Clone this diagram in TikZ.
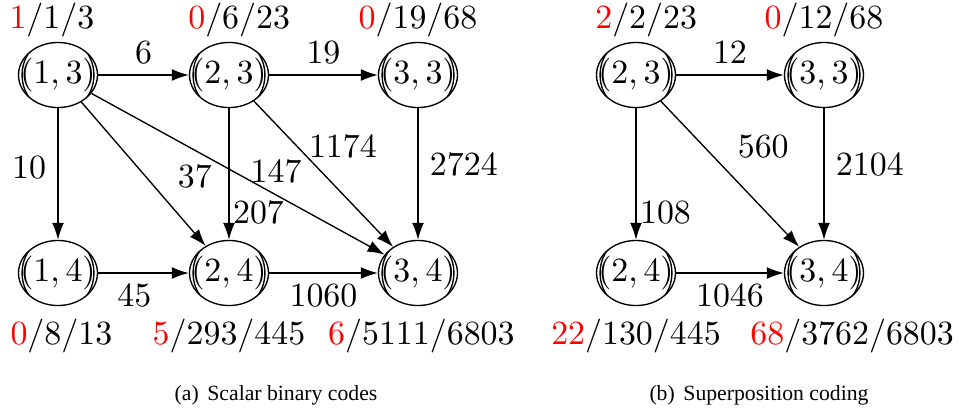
\documentclass[tikz,border=0pt]{standalone}
\usepackage[no-math]{fontspec}
\newfontfamily\capfont{Liberation Serif}
\usepackage{xcolor}
\usetikzlibrary{positioning, calc, shapes.geometric, arrows.meta}
\tikzstyle{Arrow} = [
thin,
-{Latex[length=5pt, width=3.5pt]}]
\tikzstyle{Cell} = [
ellipse, draw, thin, inner sep=0pt,
minimum width=23.3pt, minimum height=19.2pt,
path picture={\draw[thin] (path picture bounding box.center)
  ellipse [x radius=10.6pt, y radius=11.2pt];}]
\tikzstyle{Count} = [inner sep=0pt]
\tikzstyle{Caption} = [anchor=base, inner sep=0pt,
font=\capfont\fontsize{6.4}{8}\selectfont]
\newcommand{\cell}[2]{\makebox[0pt]{$(#1,#2)$}}
\newcommand{\hits}[2]{$\textcolor{red}{#1}/#2$}

\begin{document}
\begin{tikzpicture}[x=0.295pt, y=-0.295pt]
    \useasboundingbox (0,0) rectangle (959,415);

    % (a) scalar binary codes
    \node[Cell] (a13) at (58,75) {\cell{1}{3}};
    \node[Cell] (a23) at (229,75) {\cell{2}{3}};
    \node[Cell] (a33) at (418,75) {\cell{3}{3}};
    \node[Cell] (a14) at (58,273) {\cell{1}{4}};
    \node[Cell] (a24) at (229,273) {\cell{2}{4}};
    \node[Cell] (a34) at (418,273) {\cell{3}{4}};

    \node[Count, above=1.2pt of a13, xshift=-1.8pt] (ta13) {\hits{1}{1/3}};
    \node[Count, above=1.2pt of a23, xshift=3pt] (ta23) {\hits{0}{6/23}};
    \node[Count, above=1.2pt of a33] (ta33) {\hits{0}{19/68}};
    \node[Count, below=3.5pt of a14, xshift=1pt] (ba14) {\hits{0}{8/13}};
    \node[Count, below=3.5pt of a24] (ba24) {\hits{5}{293/445}};
    \node[Count, below=3.5pt of a34, xshift=1pt] (ba34) {\hits{6}{5111/6803}};

    \draw[Arrow] (a13) -- node[above] {$6$} (a23);
    \draw[Arrow] (a23) -- node[above] {$19$} (a33);
    \draw[Arrow] (a13) -- node[left, pos=0.45] {$10$} (a14);
    \draw[Arrow] (a13) -- node[above right, pos=0.68] {$37$} (a24);
    \draw[Arrow] (a13) -- node[above, pos=0.63] {$147$} (a34);
    \draw[Arrow] (a23) -- node[right, pos=0.79, inner sep=1pt] {$207$} (a24);
    \draw[Arrow] (a23) -- node[right, pos=0.31] {$1174$} (a34);
    \draw[Arrow] (a33) -- node[right, pos=0.43] {$2724$} (a34);
    \draw[Arrow] (a14) -- node[below, pos=0.4] {$45$} (a24);
    \draw[Arrow] (a24) -- node[below] {$1060$} (a34);

    % (b) superposition coding
    \node[Cell] (b23) at (636,75) {\cell{2}{3}};
    \node[Cell] (b33) at (824,75) {\cell{3}{3}};
    \node[Cell] (b24) at (636,273) {\cell{2}{4}};
    \node[Cell] (b34) at (824,273) {\cell{3}{4}};

    \node[Count, above=1.2pt of b23, xshift=3pt] (tb23) {\hits{2}{2/23}};
    \node[Count, above=1.2pt of b33] (tb33) {\hits{0}{12/68}};
    \node[Count, below=3.5pt of b24] (bb24) {\hits{22}{130/445}};
    \node[Count, below=3.5pt of b34, xshift=8.3pt] (bb34) {\hits{68}{3762/6803}};

    \draw[Arrow] (b23) -- node[above] {$12$} (b33);
    \draw[Arrow] (b23) -- node[right, pos=0.79, inner sep=1pt] {$108$} (b24);
    \draw[Arrow] (b23) -- node[above right, pos=0.47] {$560$} (b34);
    \draw[Arrow] (b33) -- node[right, pos=0.43] {$2104$} (b34);
    \draw[Arrow] (b24) -- node[below] {$1046$} (b34);

    \node[Caption] (capa) at (276,400) {(a)\hspace{0.4em}Scalar binary codes};
    \node[Caption] (capb) at (759,400) {(b)\hspace{0.4em}Superposition coding};
\end{tikzpicture}
\end{document}
